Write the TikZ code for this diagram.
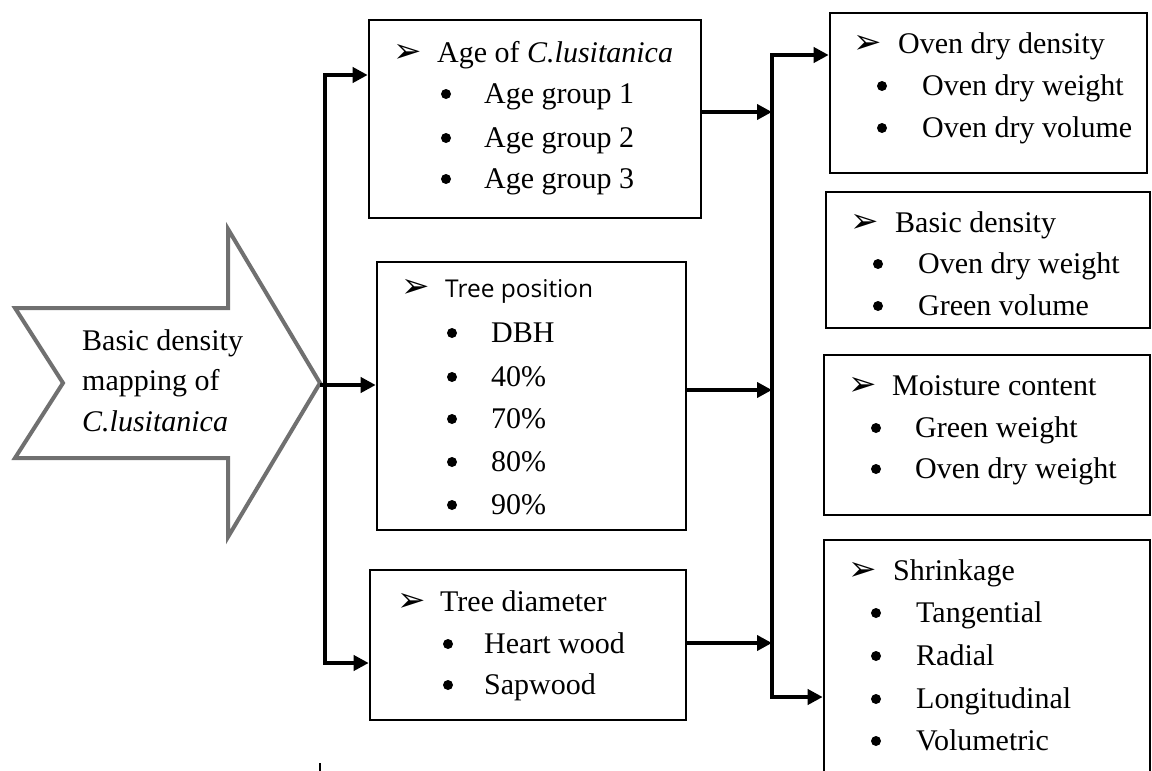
\documentclass[tikz,border=0pt]{standalone}
\usepackage{fontspec}
\setmainfont{Liberation Serif}
\newfontfamily\symfont{DejaVu Sans}
\newfontfamily\opensans{Open Sans}
\usetikzlibrary{arrows.meta}
\definecolor{arrowgray}{HTML}{707070}
\tikzset{
  box/.style={draw=black, line width=2.6pt, inner sep=0pt, fill=none},
  conn/.style={draw=black, line width=4.2pt, line join=miter},
  tip/.style={-{Triangle[length=15pt,width=15pt]}},
  txt/.style={anchor=base west, inner sep=0pt, font=\fontsize{30}{36}\selectfont},
  sanstxt/.style={anchor=base west, inner sep=0pt, font=\opensans\fontsize{24.5}{30}\selectfont},
  arrbul/.style={anchor=base west, inner sep=0pt, font=\symfont\fontsize{34}{40}\selectfont},
  dotbul/.style={circle, fill=black, draw=none, inner sep=0pt, minimum size=10pt},
}
\newcommand\ab{\char"27A2}
\begin{document}
\begin{tikzpicture}[x=1pt,y=-1pt]
\useasboundingbox (0,0) rectangle (1152,771);
\clip (0,0) rectangle (1152,771);

% big notched arrow
\draw[draw=arrowgray, line width=4pt, line join=miter, fill=white]
  (15,308) -- (63,383) -- (15,458) -- (228,458) -- (228,537) -- (320,383)
  -- (228,229) -- (228,308) -- cycle;
\coordinate (tipA) at (320,385);
\node[txt] (m1) at (82,350) {Basic density};
\node[txt] (m2) at (82,390) {mapping of};
\node[txt] (m3) at (82,431) {\itshape C.lusitanica};

% middle boxes
\node[box, minimum width=332pt, minimum height=198pt] (b1) at (535,119) {};
\node[box, minimum width=309pt, minimum height=268pt] (b2) at (531.5,396) {};
\node[box, minimum width=316pt, minimum height=150pt] (b3) at (528,645) {};

% right boxes
\node[box, minimum width=317pt, minimum height=160pt] (r1) at (988.5,93) {};
\node[box, minimum width=324pt, minimum height=136pt] (r2) at (988,260) {};
\node[box, minimum width=326pt, minimum height=160pt] (r3) at (987,435) {};
\node[box, minimum width=326pt, minimum height=270pt] (r4) at (987,675) {};

% box 1 text
\node[arrbul] (b1a) at (393,62) {\ab};
\node[txt] (b1t) at (437,62) {Age of \textit{C.lusitanica}};
\node[dotbul] (b1b1) at (446,94) {};
\node[txt] (b1t1) at (484,103) {Age group 1};
\node[dotbul] (b1b2) at (446,138) {};
\node[txt] (b1t2) at (484,147) {Age group 2};
\node[dotbul] (b1b3) at (446,179) {};
\node[txt] (b1t3) at (484,188) {Age group 3};

% box 2 text
\node[arrbul] (b2a) at (401,297) {\ab};
\node[sanstxt] (b2t) at (445,297) {Tree position};
\node[dotbul] (b2b1) at (452,333) {};
\node[txt] (b2t1) at (491,342) {DBH};
\node[dotbul] (b2b2) at (452,377) {};
\node[txt] (b2t2) at (491,386) {40\%};
\node[dotbul] (b2b3) at (452,419) {};
\node[txt] (b2t3) at (491,428) {70\%};
\node[dotbul] (b2b4) at (452,462) {};
\node[txt] (b2t4) at (491,471) {80\%};
\node[dotbul] (b2b5) at (452,505) {};
\node[txt] (b2t5) at (491,514) {90\%};

% box 3 text
\node[arrbul] (b3a) at (397,611) {\ab};
\node[txt] (b3t) at (440,611) {Tree diameter};
\node[dotbul] (b3b1) at (448,644) {};
\node[txt] (b3t1) at (484,653) {Heart wood};
\node[dotbul] (b3b2) at (448,685) {};
\node[txt] (b3t2) at (484,694) {Sapwood};

% r1 text
\node[arrbul] (r1a) at (853,53) {\ab};
\node[txt] (r1t) at (898,53) {Oven dry density};
\node[dotbul] (r1b1) at (882,86) {};
\node[txt] (r1t1) at (922,95) {Oven dry weight};
\node[dotbul] (r1b2) at (882,128) {};
\node[txt] (r1t2) at (922,137) {Oven dry volume};

% r2 text
\node[arrbul] (r2a) at (850,232) {\ab};
\node[txt] (r2t) at (895,232) {Basic density};
\node[dotbul] (r2b1) at (878,264) {};
\node[txt] (r2t1) at (918,273) {Oven dry weight};
\node[dotbul] (r2b2) at (878,306) {};
\node[txt] (r2t2) at (918,315) {Green volume};

% r3 text
\node[arrbul] (r3a) at (848,395) {\ab};
\node[txt] (r3t) at (892,395) {Moisture content};
\node[dotbul] (r3b1) at (876,428) {};
\node[txt] (r3t1) at (915,437) {Green weight};
\node[dotbul] (r3b2) at (876,469) {};
\node[txt] (r3t2) at (915,478) {Oven dry weight};

% r4 text
\node[arrbul] (r4a) at (848,580) {\ab};
\node[txt] (r4t) at (893,580) {Shrinkage};
\node[dotbul] (r4b1) at (876,613) {};
\node[txt] (r4t1) at (916,622) {Tangential};
\node[dotbul] (r4b2) at (876,656) {};
\node[txt] (r4t2) at (916,665) {Radial};
\node[dotbul] (r4b3) at (876,699) {};
\node[txt] (r4t3) at (916,708) {Longitudinal};
\node[dotbul] (r4b4) at (876,741) {};
\node[txt] (r4t4) at (916,750) {Volumetric};

% left trunk
\coordinate (LT) at (325,75);
\coordinate (LB) at (325,663);
\draw[conn, {Triangle[length=15pt,width=15pt]}-{Triangle[length=15pt,width=15pt]}]
  (b1.west |- LT) -- (LT) -- (LB) -- (b3.west |- LB);
\draw[conn, tip] (tipA) -- (b2.west |- tipA);

% right trunk
\coordinate (RT) at (772,55);
\coordinate (RB) at (772,697);
\draw[conn, {Triangle[length=15pt,width=15pt]}-{Triangle[length=15pt,width=15pt]}]
  (r1.west |- RT) -- (RT) -- (RB) -- (r4.west |- RB);
\coordinate (y1) at (0,112);
\coordinate (y2) at (0,390);
\coordinate (y3) at (0,643);
\draw[conn, tip] (b1.east |- y1) -- (RT |- y1);
\draw[conn, tip] (b2.east |- y2) -- (RT |- y2);
\draw[conn, tip] (b3.east |- y3) -- (RT |- y3);

% stray tick at the bottom
\draw[line width=1.5pt] (320,763) -- (320,771);
\end{tikzpicture}
\end{document}
